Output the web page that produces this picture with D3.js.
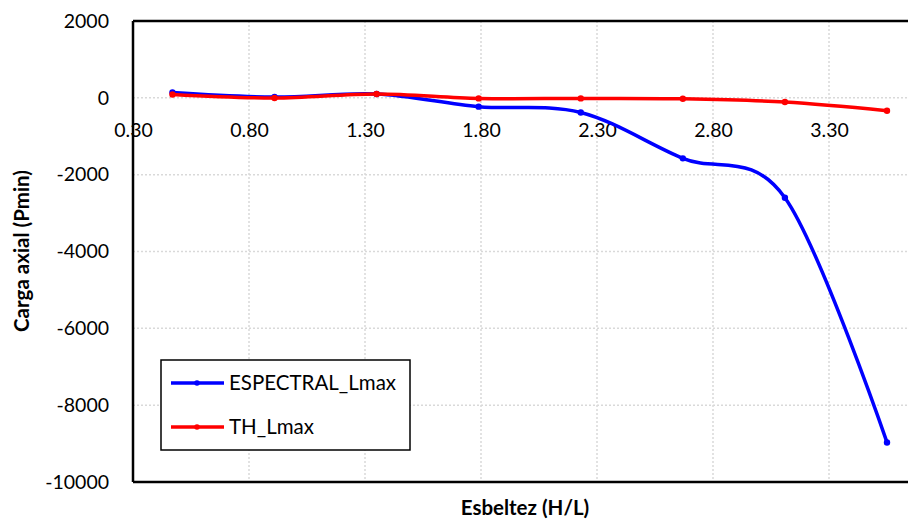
<!DOCTYPE html>
<html>
<head>
<meta charset="utf-8">
<script src="https://cdn.jsdelivr.net/npm/d3@7"></script>
<style>
  html, body { margin: 0; padding: 0; background: #fff; }
  svg { display: block; }
  text { font-family: Lato, "Open Sans", sans-serif; fill: #000; }
</style>
</head>
<body>
<svg id="chart" width="908" height="528"></svg>
<script>
// ---- data ----
const xValues = [0.47, 0.91, 1.35, 1.79, 2.23, 2.67, 3.11, 3.55];
const espectral = [140, 20, 100, -230, -380, -1575, -2600, -8970];
const thValues = [86, -5, 100, -15, -15, -25, -110, -335];
const seriesNames = ["ESPECTRAL_Lmax", "TH_Lmax"];
const xTicks = [0.30, 0.80, 1.30, 1.80, 2.30, 2.80, 3.30];
const yTicks = [2000, 0, -2000, -4000, -6000, -8000, -10000];
const xTitle = "Esbeltez (H/L)";
const yTitle = "Carga axial (Pmin)";

const svg = d3.select("#chart");
const pL = 133, pR = 945, pT = 21, pB = 482;

const x = d3.scaleLinear().domain([0.30, 3.80]).range([pL, pR]);
const y = d3.scaleLinear().domain([-10000, 2000]).range([pB, pT]);

// gridlines
const grid = svg.append("g");
grid.selectAll("line.h").data(yTicks.filter(d => d !== 2000 && d !== -10000)).enter()
  .append("line")
  .attr("x1", pL).attr("x2", 908)
  .attr("y1", d => y(d)).attr("y2", d => y(d))
  .attr("stroke", "#d9d9d9").attr("stroke-width", 1.5).attr("stroke-dasharray", "2,2");
grid.selectAll("line.v").data(xTicks.filter(d => d !== 0.30)).enter()
  .append("line")
  .attr("y1", pT).attr("y2", pB)
  .attr("x1", d => x(d)).attr("x2", d => x(d))
  .attr("stroke", "#d9d9d9").attr("stroke-width", 1.5).attr("stroke-dasharray", "2,2");

// frame
svg.append("line").attr("x1", pL).attr("x2", 908).attr("y1", pT).attr("y2", pT)
  .attr("stroke", "#000").attr("stroke-width", 2.5);
svg.append("line").attr("x1", pL).attr("x2", 908).attr("y1", pB).attr("y2", pB)
  .attr("stroke", "#000").attr("stroke-width", 2.5);
svg.append("line").attr("x1", pL).attr("x2", pL).attr("y1", pT).attr("y2", pB)
  .attr("stroke", "#000").attr("stroke-width", 2.5);

// y tick labels
const yAxis = d3.axisLeft(y).tickValues(yTicks).tickSize(0).tickPadding(0)
  .tickFormat(d => String(d));
const gy = svg.append("g").attr("transform", `translate(109,0)`).call(yAxis);
gy.select(".domain").remove();
gy.selectAll("text").attr("font-size", "19.5px").attr("font-family", "Lato, sans-serif").attr("fill", "#000");

// x tick labels (placed next to the y=0 crossing)
const xAxis = d3.axisBottom(x).tickValues(xTicks).tickSize(0).tickPadding(0).tickFormat(d3.format(".2f"));
const gx = svg.append("g").attr("transform", `translate(0,${y(0) + 25})`).call(xAxis);
gx.select(".domain").remove();
gx.selectAll("text").attr("font-size", "19.5px").attr("font-family", "Lato, sans-serif").attr("fill", "#000");

// lines
const line = d3.line().x((d, i) => x(xValues[i])).y(d => y(d)).curve(d3.curveCatmullRom.alpha(0));
const series = [
  { name: seriesNames[0], values: espectral, color: "#0000ff" },
  { name: seriesNames[1], values: thValues, color: "#ff0000" }
];
series.forEach(s => {
  svg.append("path").attr("d", line(s.values)).attr("fill", "none")
    .attr("stroke", s.color).attr("stroke-width", 3.5).attr("stroke-linejoin", "round");
  svg.selectAll(null).data(s.values).enter().append("circle")
    .attr("cx", (d, i) => x(xValues[i])).attr("cy", d => y(d)).attr("r", 3.2)
    .attr("fill", s.color);
});

// legend
const lg = svg.append("g");
lg.append("rect").attr("x", 161).attr("y", 360).attr("width", 249).attr("height", 90)
  .attr("fill", "#fff").attr("stroke", "#000").attr("stroke-width", 1.5);
series.forEach((s, i) => {
  const cy = 383 + i * 44;
  lg.append("line").attr("x1", 171).attr("x2", 224).attr("y1", cy).attr("y2", cy)
    .attr("stroke", s.color).attr("stroke-width", 3.5);
  lg.append("circle").attr("cx", 197).attr("cy", cy).attr("r", 2.8).attr("fill", s.color);
  lg.append("text").attr("x", 229).attr("y", cy + 7).attr("font-size", "20.5px").text(s.name);
});

// axis titles
svg.append("text").attr("x", 525).attr("y", 515).attr("text-anchor", "middle")
  .attr("font-size", "20.5px").attr("font-weight", "bold").text(xTitle);
svg.append("text").attr("transform", "translate(29,251) rotate(-90)").attr("text-anchor", "middle")
  .attr("font-size", "20.5px").attr("font-weight", "bold").text(yTitle);
</script>
</body>
</html>
